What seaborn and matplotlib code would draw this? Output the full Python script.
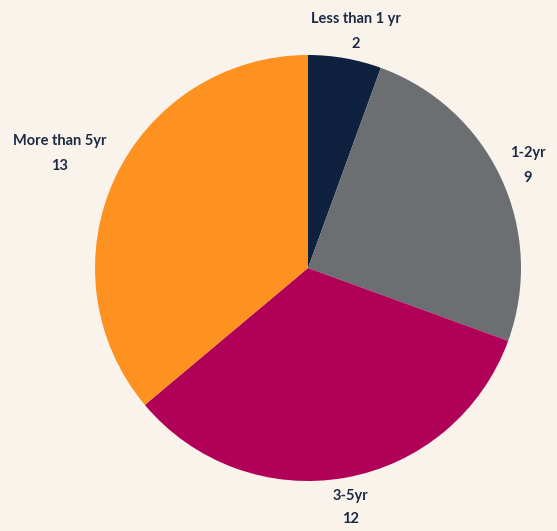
import matplotlib
matplotlib.use("Agg")
import matplotlib.pyplot as plt
import seaborn as sns

categories = ["Less than 1 yr", "1-2yr", "3-5yr", "More than 5yr"]
values = [2, 9, 12, 13]
colors = ["#0e2240", "#6b6f72", "#b10057", "#fd9220"]

bg = "#faf3ec"
text_color = "#1c2a44"

sns.set_theme(style="white")
plt.rcParams["font.family"] = ["Lato", "DejaVu Sans"]

fig = plt.figure(figsize=(5.57, 5.31), dpi=100, facecolor=bg)
ax = fig.add_axes([0, 0, 1, 1])
ax.set_facecolor(bg)

ax.pie(values, colors=colors, startangle=90, counterclock=False,
       radius=1.0, wedgeprops=dict(linewidth=0))

R = 213.0
cx, cy = 308.0, 268.0
W, H = 557.0, 531.0
ax.set_xlim(-cx / R, (W - cx) / R)
ax.set_ylim(-(H - cy) / R, cy / R)
ax.set_aspect("auto")
ax.axis("off")

# label anchor positions in pixel coordinates (x, y of label line, y of value line)
label_pos = {
    "Less than 1 yr": (356, 19, 44),
    "1-2yr": (528, 153, 178),
    "3-5yr": (350, 496, 519),
    "More than 5yr": (60, 141, 166),
}
for cat, val in zip(categories, values):
    px, py1, py2 = label_pos[cat]
    x = (px - cx) / R
    ax.text(x, (cy - py1) / R, cat, ha="center", va="center",
            fontsize=10.5, fontweight="bold", color=text_color)
    ax.text(x, (cy - py2) / R, str(val), ha="center", va="center",
            fontsize=10.5, fontweight="bold", color=text_color)

fig.savefig("out.png", dpi=100, facecolor=bg)
